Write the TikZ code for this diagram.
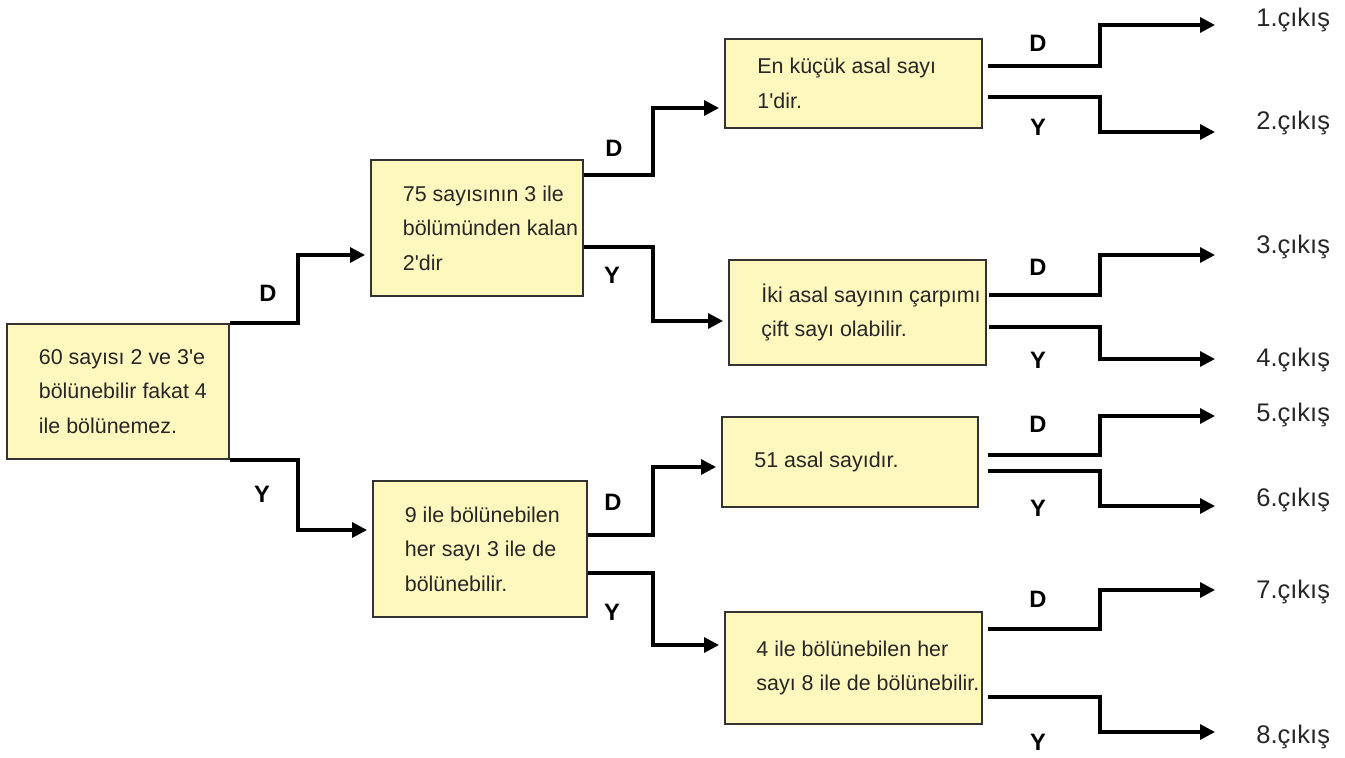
\documentclass[tikz,border=0pt]{standalone}
\usepackage{fontspec}
\setmainfont{Liberation Sans}
\usetikzlibrary{positioning,calc,arrows.meta}
\definecolor{qfill}{RGB}{255,248,190}
\definecolor{qedge}{RGB}{51,51,51}
\tikzset{
    qbox/.style={draw=qedge, line width=1.1pt, fill=qfill, inner sep=0pt},
    qtext/.style={anchor=west, align=left, inner sep=0pt, text=black!85, font=\fontsize{12.2}{19.7}\selectfont},
    link/.style={line width=1.8pt, -{Triangle[length=0.3cm,width=0.3cm]}, shorten >=0.1cm},
    exit/.style={line width=1.8pt, -{Triangle[length=0.3cm,width=0.3cm]}},
    branch/.style={inner sep=0pt, font=\fontsize{13.5}{15}\selectfont\bfseries},
    outlbl/.style={anchor=west, inner sep=0pt, text=black!85, font=\fontsize{14.5}{16}\selectfont}
}

\begin{document}
\begin{tikzpicture}
    \useasboundingbox (0,0) rectangle (26.9,-15.16);

    % Questions
    \node[qbox, minimum width=4.44cm, minimum height=2.70cm] (qA) at (2.36,-7.83) {};
    \node[qtext] (tA) at ($(qA.west)+(0.65,0)$) {60 sayısı 2 ve 3\textquotesingle e\\bölünebilir fakat 4\\ile bölünemez.};
    \node[qbox, minimum width=4.24cm, minimum height=2.72cm] (qB) at (9.54,-4.56) {};
    \node[qtext] (tB) at ($(qB.west)+(0.65,0)$) {75 sayısının 3 ile\\bölümünden kalan\\2\textquotesingle dir};
    \node[qbox, minimum width=4.28cm, minimum height=2.72cm] (qC) at (9.60,-10.98) {};
    \node[qtext] (tC) at ($(qC.west)+(0.65,0)$) {9 ile bölünebilen\\her sayı 3 ile de\\bölünebilir.};
    \node[qbox, minimum width=5.14cm, minimum height=1.78cm] (qD) at (17.07,-1.67) {};
    \node[qtext] (tD) at ($(qD.west)+(0.66,0)$) {En küçük asal sayı\\1\textquotesingle dir.};
    \node[qbox, minimum width=5.14cm, minimum height=2.10cm] (qE) at (17.15,-6.25) {};
    \node[qtext] (tE) at ($(qE.west)+(0.66,0)$) {İki asal sayının çarpımı\\çift sayı olabilir.};
    \node[qbox, minimum width=5.12cm, minimum height=1.80cm] (qF) at (17.00,-9.24) {};
    \node[qtext] (tF) at ($(qF.west)+(0.66,0)$) {51 asal sayıdır.};
    \node[qbox, minimum width=5.14cm, minimum height=2.24cm] (qG) at (17.07,-13.36) {};
    \node[qtext] (tG) at ($(qG.west)+(0.64,0)$) {4 ile bölünebilen her\\sayı 8 ile de bölünebilir.};

    % Outputs
    \foreach \i/\ty/\ay in {1/0.40/0.50, 2/2.46/2.64, 3/4.94/5.10, 4/7.20/7.18, 5/8.30/8.32, 6/10.00/10.12, 7/11.84/11.80, 8/14.74/14.64} {
        \coordinate (e\i) at (24.3,-\ay);
        \node[outlbl] (o\i) at (25.12,-\ty) {\i.çıkış};
    }

    % Connectors
    \draw[link] (qA.north east) -- ++(1.36,0) |- ([yshift=-0.54cm]qB.west);
    \draw[link] (qA.south east) -- ++(1.36,0) |- ([yshift=0.38cm]qC.west);
    \draw[link] ([yshift=1.06cm]qB.east) -- ++(1.38,0) |- ([yshift=-0.49cm]qD.west);
    \draw[link] ([yshift=-0.38cm]qB.east) -- ++(1.38,0) |- ([yshift=-0.17cm]qE.west);
    \draw[link] ([yshift=0.28cm]qC.east) -- ++(1.30,0) |- ([yshift=-0.10cm]qF.west);
    \draw[link] ([yshift=-0.48cm]qC.east) -- ++(1.30,0) |- ([yshift=0.46cm]qG.west);
    \foreach \q/\sx/\du/\dd/\a/\b in {qD/0.1/0.35/-0.27/1/2, qE/0.04/0.35/-0.29/3/4, qF/0.18/0.14/-0.18/5/6, qG/0.1/0.78/-0.58/7/8} {
        \draw[exit] ([xshift=\sx cm,yshift=\du cm]\q.east) -| ([xshift=-2.3cm]e\a) -- (e\a);
        \draw[exit] ([xshift=\sx cm,yshift=\dd cm]\q.east) -| ([xshift=-2.3cm]e\b) -- (e\b);
    }

    % D / Y labels
    \node[branch] (dA) at (5.36,-5.86) {D};
    \node[branch] (yA) at (5.24,-9.88) {Y};
    \node[branch] (dB) at (12.28,-2.96) {D};
    \node[branch] (yB) at (12.24,-5.50) {Y};
    \node[branch] (dC) at (12.26,-10.04) {D};
    \node[branch] (yC) at (12.24,-12.24) {Y};
    \node[branch] (dD) at (20.76,-0.86) {D};
    \node[branch] (yD) at (20.76,-2.54) {Y};
    \node[branch] (dE) at (20.76,-5.34) {D};
    \node[branch] (yE) at (20.76,-7.20) {Y};
    \node[branch] (dF) at (20.76,-8.48) {D};
    \node[branch] (yF) at (20.76,-10.16) {Y};
    \node[branch] (dG) at (20.76,-11.98) {D};
    \node[branch] (yG) at (20.76,-14.84) {Y};
\end{tikzpicture}
\end{document}
